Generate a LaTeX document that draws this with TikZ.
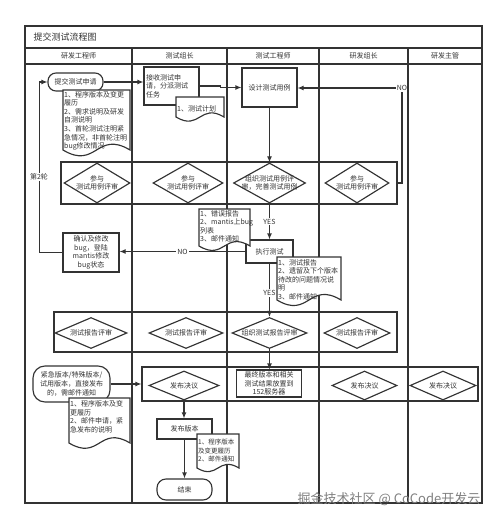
\documentclass[tikz,border=0pt]{standalone}
\usepackage{fontspec}
\setmainfont{Noto Sans CJK SC}
\usetikzlibrary{shapes.geometric,arrows.meta,calc}
\definecolor{lc}{HTML}{333333}
\definecolor{tc}{HTML}{333333}
\newcommand\fs{\fontsize{7}{8.6}\selectfont}
% document shape: [opts]{name}{x1}{y1}{x2}{y2}{dy}{text}
\newcommand\docnode[8][]{%
  \draw[shp] (#3,#4) -- (#5,#4) -- (#5,#6)
    .. controls ({(#3+#5)/2},{#6-0.3*(#5-#3)}) and ({(#3+#5)/2},{#6+0.3*(#5-#3)}) .. (#3,#6) -- cycle;
  \node[doctext, anchor=north west, #1] (#2) at (#3,{#4+#7}) {#8};}
\begin{document}
\begin{tikzpicture}[x=1pt,y=-1pt,
  ln/.style={draw=lc, line width=1.15pt},
  shp/.style={draw=lc, fill=white, line width=1.15pt},
  box/.style={shp, rectangle, inner sep=1pt, font=\fs, text=tc, align=center},
  term/.style={box, rounded corners=8pt},
  dia/.style={shp, diamond, inner sep=0pt},
  dtext/.style={font=\fs, text=tc, align=center, inner sep=0pt},
  band/.style={draw=lc, line width=1.15pt, rectangle, inner sep=0pt},
  arr/.style={draw=lc, line width=1.15pt, -{Latex[length=6pt,width=5pt]}},
  lbl/.style={font=\fs, text=tc, fill=white, inner sep=1pt},
  doctext/.style={font=\fs, text=tc, align=left, inner sep=1pt},
  hdr/.style={font=\fs, text=tc}
]
\useasboundingbox[fill=white] (0,0) rectangle (500,521);

% frame and lanes
\draw[ln] (25,26) rectangle (482,503);
\draw[ln] (25,48) -- (482,48);
\draw[ln] (25,64) -- (482,64);
\foreach \x in {132,227,319,408} \draw[ln] (\x,48) -- (\x,503);

\node[font=\fontsize{9}{10}\selectfont, text=tc, anchor=west] (title) at (30,37) {提交测试流程图};
\node[hdr] (h1) at (78.5,56) {研发工程师};
\node[hdr] (h2) at (179.5,56) {测试组长};
\node[hdr] (h3) at (273,56) {测试工程师};
\node[hdr] (h4) at (363.5,56) {研发组长};
\node[hdr] (h5) at (445,56) {研发主管};

% bands
\node[band, minimum width=336pt, minimum height=42pt] (bandA) at (229,183) {};
\node[band, minimum width=343pt, minimum height=40pt] (bandB) at (225.5,332) {};
\node[band, minimum width=336pt, minimum height=34pt] (bandC) at (310,384) {};

% top row
\node[term, minimum width=55pt, minimum height=18pt] (t1) at (75.5,82) {提交测试申请};
\node[box, minimum width=55pt, minimum height=38pt, text width=51pt, align=left] (recv) at (171.5,86) {接收测试申\\请，分派测试\\任务};
\node[box, minimum width=55pt, minimum height=39pt] (design) at (269.5,87.5) {设计测试用例};

% review band 1
\node[dia, minimum width=66pt, minimum height=40pt] (d1) at (97,183) {};
\node[dtext] (d1t) at (d1) {参与\\测试用例评审};
\node[dia, minimum width=70pt, minimum height=40pt] (d2) at (188,183) {};
\node[dtext] (d2t) at (d2) {参与\\测试用例评审};
\node[dia, minimum width=72pt, minimum height=40pt] (d3) at (269.5,183) {};
\node[dtext] (d3t) at (d3) {组织测试用例评\\审，完善测试用例};
\node[dia, minimum width=64pt, minimum height=40pt] (d4) at (357,183) {};
\node[dtext] (d4t) at (d4) {参与\\测试用例评审};

\node[box, minimum width=56pt, minimum height=39pt] (confirm) at (91,252.5) {确认及修改\\bug，登陆\\mantis修改\\bug状态};
\node[box, minimum width=47pt, minimum height=23pt] (exec) at (269.5,251.5) {执行测试};

% review band 2
\node[dia, minimum width=72pt, minimum height=31pt] (e1) at (91,333) {};
\node[dtext] (e1t) at (e1) {测试报告评审};
\node[dia, minimum width=74pt, minimum height=31pt] (e2) at (186,333) {};
\node[dtext] (e2t) at (e2) {测试报告评审};
\node[dia, minimum width=75pt, minimum height=31pt] (e3) at (269.5,333) {};
\node[dtext] (e3t) at (e3) {组织测试报告评审};
\node[dia, minimum width=66pt, minimum height=31pt] (e4) at (357,333) {};
\node[dtext] (e4t) at (e4) {测试报告评审};

% band 3
\node[dia, minimum width=70pt, minimum height=29pt] (f1) at (184,385.5) {};
\node[dtext] (f1t) at (f1) {发布决议};
\node[box, minimum width=65pt, minimum height=27pt] (final) at (269,383.5) {最终版本和相关\\测试结果放置到\\152服务器};
\node[dia, minimum width=65pt, minimum height=29pt] (f4) at (364.5,385.5) {};
\node[dtext] (f4t) at (f4) {发布决议};
\node[dia, minimum width=66pt, minimum height=29pt] (f5) at (443,385.5) {};
\node[dtext] (f5t) at (f5) {发布决议};

\node[term, rounded corners=12pt, minimum width=77pt, minimum height=36pt] (urgent) at (71.5,384) {紧急版本/特殊版本/\\试用版本，直接发布\\的，需邮件通知};
\node[box, minimum width=55pt, minimum height=20pt] (release) at (184.5,429) {发布版本};
\node[term, rounded corners=9pt, minimum width=55pt, minimum height=21pt] (end) at (184.5,489.5) {结束};

% connectors
\draw[arr] (t1.east) -- (t1.east -| recv.west);
\draw[arr] (recv.east) -- ++(21,0) |- (design.west);
\node[font=\fs, text=tc, inner sep=1pt] (no1) at (402,88) {NO};
\draw[ln] (bandA.east |- d4) -- (no1.south |- d4) -- (no1.south);
\draw[arr] (no1.west) -- (no1.west -| design.east);
\draw[arr] (design.south) -- (design.south |- d3.north);
\draw[arr] (d3.south) -- node[lbl]{YES} (d3.south |- exec.north);
\draw[arr] (exec.west) -- node[lbl]{NO} (exec.west -| confirm.east);
\draw[arr] (confirm.west) -- ++(-23,0) |- (t1.west);
\node[lbl] (round2) at (39,177) {第2轮};
\draw[arr] (exec.south) -- node[lbl, pos=0.55]{YES} (exec.south |- e3.north);
\draw[arr] (e3.south) -- (e3.south |- final.north);
\draw[arr] (urgent.east) -- (urgent.east -| bandC.west);
\draw[arr] (f1.south) -- (f1.south |- release.north);
\draw[arr] (release.south) -- (release.south |- end.north);

% documents
\docnode{doc1}{63}{90}{130}{150}{0}{1、程序版本及变更\\履历\\2、需求说明及研发\\自测说明\\3、首轮测试注明紧\\急情况，非首轮注明\\bug修改情况}
\docnode{doc2}{176}{97}{224}{117}{7}{1、测试计划}
\docnode{doc3}{199}{209}{250}{246}{0}{1、错误报告\\2、mantis上bug\\列表\\3、邮件通知}
\docnode{doc4}{277}{257}{341}{300}{1}{1、测试报告\\2、遗留及下个版本\\待改的问题情况说\\明\\3、邮件通知}
\docnode{doc5}{69}{398}{130}{443}{1.5}{1、程序版本及变\\更履历\\2、邮件申请，紧\\急发布的说明}
\docnode[font=\fontsize{6.5}{8.5}\selectfont]{doc6}{197}{434}{239}{468}{4}{1、程序版本\\及变更履历\\2、邮件通知}

% watermark
\node[font=\fontsize{13}{13}\selectfont, text=black!50, inner sep=0pt] (wm) at (389,499) {掘金技术社区 @ CoCode开发云};
\end{tikzpicture}
\end{document}
